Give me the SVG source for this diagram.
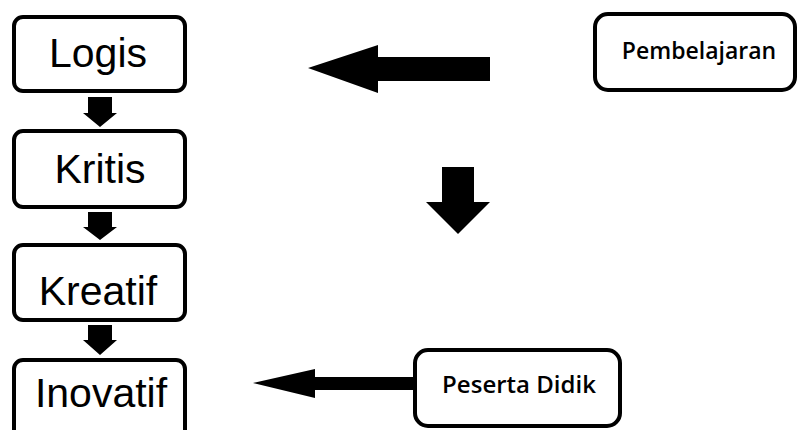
<svg xmlns="http://www.w3.org/2000/svg" width="798" height="430" viewBox="0 0 798 430">
  <style>
    .box { fill: #ffffff; stroke: #000000; stroke-width: 4; }
    .big { font-family: "Liberation Sans", Arial, sans-serif; font-size: 41px; fill: #000000; text-anchor: middle; }
    .small { font-family: "Open Sans", "Noto Sans", sans-serif; font-weight: 600; fill: #000000; text-anchor: middle; }
    .arrow { fill: #000000; stroke: none; }
  </style>
  <rect width="798" height="430" fill="#ffffff"/>

  <!-- block arrows -->
  <g id="connectors">
    <path class="arrow" d="M88,97 H112 V113 H117 L100,127 L83,113 H88 Z"/>
    <path class="arrow" d="M88,212 H112 V227 H117 L100,240 L83,227 H88 Z"/>
    <path class="arrow" d="M88,325 H112 V340 H117 L100,355 L83,340 H88 Z"/>
    <path class="arrow" d="M490,57 V81 H378 V93 L308,68 L378,45 V57 Z"/>
    <path class="arrow" d="M442,167 H474 V202 H490 L458,234 L426,202 H442 Z"/>
    <path class="arrow" d="M413,377 V390 H315 V398 L253,383 L315,369 V377 Z"/>
  </g>

  <g id="logis">
    <rect class="box" x="14" y="17" width="171" height="74" rx="9"/>
    <text class="big" x="98" y="67">Logis</text>
  </g>
  <g id="kritis">
    <rect class="box" x="14" y="131" width="171" height="76" rx="9"/>
    <text class="big" x="100" y="183">Kritis</text>
  </g>
  <g id="kreatif">
    <rect class="box" x="14" y="245" width="171" height="75" rx="9"/>
    <text class="big" x="98" y="305">Kreatif</text>
  </g>
  <g id="inovatif">
    <rect class="box" x="14" y="360" width="171" height="90" rx="9"/>
    <text class="big" x="101" y="407">Inovatif</text>
  </g>

  <g id="pembelajaran">
    <rect class="box" x="595" y="14" width="200" height="76" rx="13"/>
    <text class="small" x="699" y="59" font-size="23">Pembelajaran</text>
  </g>
  <g id="peserta-didik">
    <rect class="box" x="415" y="350" width="205" height="76" rx="13"/>
    <text class="small" x="519" y="393" font-size="24">Peserta Didik</text>
  </g>
</svg>
